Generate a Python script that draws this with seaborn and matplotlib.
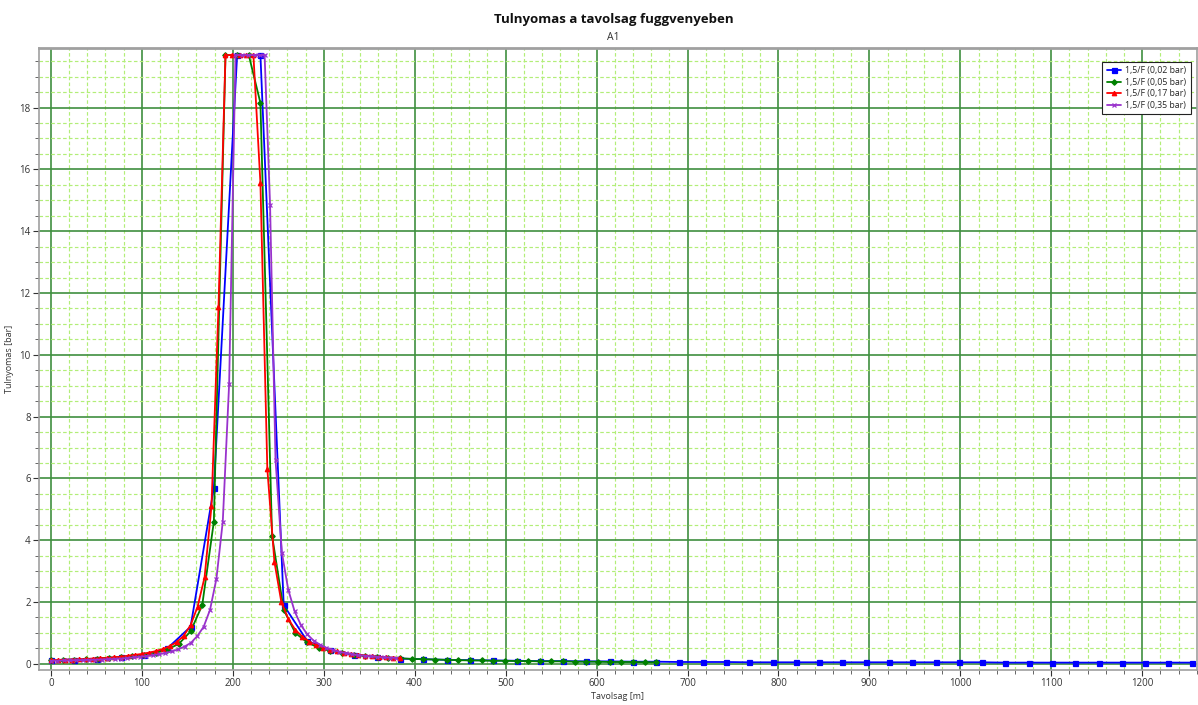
import matplotlib
matplotlib.use("Agg")
import matplotlib.pyplot as plt
from matplotlib.ticker import MultipleLocator
import seaborn as sns
import pandas as pd

# ---- data ----
series_names = ["1,5/F (0,02 bar)", "1,5/F (0,05 bar)", "1,5/F (0,17 bar)", "1,5/F (0,35 bar)"]

blue_x = [0, 25.6, 51.2, 76.8, 102.4, 128, 153.6, 179.2, 204.8, 230.4, 256, 281.6, 307.2,
          332.8, 358.4, 384, 409.6, 435.2, 460.8, 486.4, 512, 537.6, 563.2, 588.8, 614.4,
          640, 665.6, 691.2, 716.8, 742.4, 768, 793.6, 819.2, 844.8, 870.4, 896, 921.6,
          947.2, 972.8, 998.4, 1024, 1049.6, 1075.2, 1100.8, 1126.4, 1152, 1177.6, 1203.2,
          1228.8, 1254.4]
blue_y = [0.12, 0.14, 0.17, 0.22, 0.30, 0.50, 1.20, 5.70, 19.7, 19.7, 1.90, 0.75, 0.45,
          0.30, 0.22, 0.17, 0.15, 0.13, 0.12, 0.11, 0.10, 0.09, 0.09, 0.08, 0.08,
          0.07, 0.07, 0.06, 0.06, 0.06, 0.05, 0.05, 0.05, 0.05, 0.05, 0.05, 0.05,
          0.05, 0.05, 0.05, 0.05, 0.04, 0.04, 0.04, 0.04, 0.04, 0.04, 0.04,
          0.04, 0.04]

green_x = [0, 12.8, 25.6, 38.4, 51.2, 64, 76.8, 89.6, 102.4, 115.2, 128, 140.8, 153.6,
           166.4, 179.2, 192, 204.8, 217.6, 230.4, 243.2, 256, 268.8, 281.6, 294.4, 307.2,
           320, 332.8, 345.6, 358.4, 371.2, 384, 396.8, 409.6, 422.4, 435.2, 448, 460.8,
           473.6, 486.4, 499.2, 512, 524.8, 537.6, 550.4, 563.2, 576, 588.8, 601.6, 614.4,
           627.2, 640, 652.8, 665.6]
green_y = [0.12, 0.13, 0.14, 0.15, 0.17, 0.19, 0.22, 0.25, 0.30, 0.36, 0.46, 0.65, 1.05,
           1.90, 4.60, 19.7, 19.7, 19.7, 18.15, 4.15, 1.75, 1.00, 0.70, 0.52, 0.42,
           0.35, 0.30, 0.26, 0.23, 0.20, 0.18, 0.16, 0.15, 0.14, 0.13, 0.12, 0.11,
           0.11, 0.10, 0.10, 0.09, 0.09, 0.08, 0.08, 0.08, 0.07, 0.07, 0.07, 0.06,
           0.06, 0.06, 0.05, 0.05]

red_x = [0, 7.7, 15.4, 23.0, 30.7, 38.4, 46.1, 53.8, 61.4, 69.1, 76.8, 84.5, 92.2, 99.8,
         107.5, 115.2, 122.9, 130.6, 138.2, 145.9, 153.6, 161.3, 169.0, 176.6, 184.3,
         192.0, 199.7, 207.4, 215.0, 222.7, 230.4, 238.0, 245.8, 253.4, 261.1, 268.8,
         276.5, 284.2, 291.8, 299.5, 307.2, 314.9, 322.6, 330.2, 337.9, 345.6, 353.3,
         361.0, 368.6, 376.3, 384.0]
red_y = [0.12, 0.13, 0.13, 0.14, 0.15, 0.16, 0.17, 0.18, 0.19, 0.21, 0.23, 0.26, 0.29, 0.32,
         0.36, 0.41, 0.48, 0.57, 0.70, 0.90, 1.25, 1.85, 2.80, 5.10, 11.55,
         19.7, 19.7, 19.7, 19.7, 19.7, 15.56, 6.30, 3.30, 2.00, 1.45, 1.10,
         0.88, 0.72, 0.60, 0.52, 0.46, 0.40, 0.36, 0.32, 0.29, 0.27, 0.25,
         0.23, 0.21, 0.20, 0.19]

purple_x = [0, 7, 14, 21, 28, 35, 42, 49, 56, 63, 70, 77, 84, 91, 98, 105, 112, 119, 126,
            133, 140, 147, 154, 161, 168, 175, 182, 189, 196, 203, 210, 217, 224, 230, 235,
            241, 247, 254, 261, 268, 275, 282, 289, 296, 303, 310, 317, 324, 331, 338, 345,
            352, 359, 366, 373, 380]
purple_y = [0.10, 0.10, 0.11, 0.11, 0.12, 0.12, 0.13, 0.13, 0.14, 0.15, 0.16, 0.17, 0.19,
            0.21, 0.23, 0.25, 0.28, 0.31, 0.35, 0.40, 0.47, 0.56, 0.68, 0.90, 1.20, 1.75,
            2.75, 4.60, 9.06, 19.7, 19.7, 19.7, 19.7, 19.7, 19.7,
            14.85, 6.60, 3.60, 2.40, 1.70, 1.25, 0.95, 0.75, 0.62, 0.52, 0.45, 0.39, 0.35,
            0.31, 0.28, 0.26, 0.24, 0.22, 0.21, 0.20, 0.19]

colors = ["#0000ff", "#008000", "#ff0000", "#9932cc"]
markers = ["s", "D", "^", "x"]
msizes = [3.6, 2.8, 3.2, 3.2]

sns.set_theme(style="white")
plt.rcParams["font.family"] = ["Open Sans", "DejaVu Sans"]

fig = plt.figure(figsize=(11.98, 7.05), dpi=100)
ax = fig.add_axes([0.0326, 0.0496, 0.9664, 0.8824])

ax.xaxis.set_major_locator(MultipleLocator(100))
ax.xaxis.set_minor_locator(MultipleLocator(20))
ax.yaxis.set_major_locator(MultipleLocator(2))
ax.yaxis.set_minor_locator(MultipleLocator(0.5))
ax.grid(which="minor", color="#b2ee78", linestyle=(0, (3, 2)), linewidth=0.85, zorder=0)
ax.grid(which="major", color="#3f8f3f", linestyle="-", linewidth=1.2, zorder=0)
ax.set_axisbelow(True)

for name, xs, ys, c, m, ms in zip(series_names,
                                  [blue_x, green_x, red_x, purple_x],
                                  [blue_y, green_y, red_y, purple_y],
                                  colors, markers, msizes):
    d = pd.DataFrame({"x": xs, "y": ys})
    sns.lineplot(data=d, x="x", y="y", color=c, marker=m, markersize=ms,
                 markeredgecolor=c, markeredgewidth=0.9, linewidth=1.3,
                 estimator=None, sort=False, label=name, ax=ax)

ax.set_xlim(-13, 1260)
ax.set_ylim(-0.2, 19.93)

ax.set_xlabel("Tavolsag [m]", fontsize=6.5, color="#333333", labelpad=2)
ax.set_ylabel("Tulnyomas [bar]", fontsize=6.5, color="#333333", labelpad=4)
ax.tick_params(axis="both", which="major", labelsize=7, colors="#333333",
               direction="out", length=4, width=0.8, pad=2, bottom=True, left=True)
ax.tick_params(axis="both", which="minor", direction="out", length=3, width=0.7,
               bottom=True, left=True, colors="#666666")
ax.set_xticks(range(0, 1201, 100))
ax.set_yticks(range(0, 19, 2))

for side in ["left", "bottom", "top", "right"]:
    ax.spines[side].set_color("#a0a0a0")
    ax.spines[side].set_linewidth(1.2)
ax.spines["top"].set_linewidth(2)

fig.text(0.512, 0.972, "Tulnyomas a tavolsag fuggvenyeben", ha="center", va="center",
         fontsize=9.5, fontweight="bold", color="#111111")
fig.text(0.512, 0.947, "A1", ha="center", va="center", fontsize=7.5, color="#333333")

leg = ax.legend(loc="upper right", bbox_to_anchor=(0.9985, 0.985), fontsize=6.3,
                frameon=True, fancybox=False, edgecolor="#222222", framealpha=1,
                handlelength=1.6, borderpad=0.5, labelspacing=0.3, handletextpad=0.5)
leg.get_frame().set_linewidth(0.8)

fig.savefig("out.png", dpi=100)
